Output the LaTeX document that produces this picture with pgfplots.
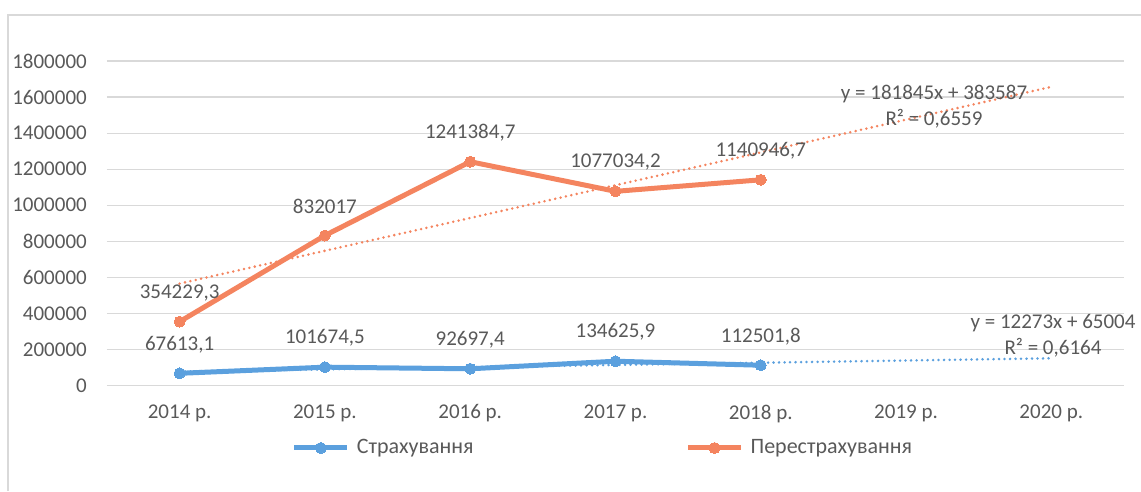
\documentclass[border=0pt]{standalone}
\usepackage{pgfplots}
\pgfplotsset{compat=1.18}
\usepackage{pgfplotstable}
\usepackage{fontspec}
\setmainfont{Carlito}
\definecolor{cblue}{RGB}{91,160,222}
\definecolor{corange}{RGB}{244,132,95}
\definecolor{ctext}{RGB}{89,89,89}
\definecolor{cgrid}{RGB}{217,217,217}

\pgfplotstableread{
x y lab
1 67613.1 {67613,1}
2 101674.5 {101674,5}
3 92697.4 {92697,4}
4 134625.9 {134625,9}
5 112501.8 {112501,8}
}\insdata
\pgfplotstableread{
x y lab
1 354229.3 {354229,3}
2 832017 {832017}
3 1241384.7 {1241384,7}
4 1077034.2 {1077034,2}
5 1140946.7 {1140946,7}
}\reinsdata
% trendlines: y = 12273x + 65004 ; y = 181845x + 383587 (forecast 2 periods)
\pgfplotstableread{
x y
1 77277
7 150915
}\instrend
\pgfplotstableread{
x y
1 565432
7 1656502
}\reinstrend

\begin{document}
\fontsize{21pt}{25pt}\selectfont
\begin{tikzpicture}
\useasboundingbox (0pt,0pt) rectangle (1141pt,491pt);
\draw[cgrid, line width=1.2pt] (8pt,0pt) -- (8pt,476pt) -- (1141pt,476pt);
\begin{axis}[
  at={(107pt,105.5pt)}, anchor=south west,
  width=1017pt, height=324.5pt, scale only axis,
  xmin=0.5, xmax=7.5, ymin=0, ymax=1800000,
  xtick={1,2,3,4,5,6,7},
  xticklabels={2014 р.,2015 р.,2016 р.,2017 р.,2018 р.,2019 р.,2020 р.},
  ytick={0,200000,...,1800000},
  ymajorgrids, grid style={cgrid, line width=1.2pt},
  axis line style={draw=none},
  tick style={draw=none},
  scaled y ticks=false,
  /pgf/number format/.cd, fixed, 1000 sep={}, assume math mode=true, /pgfplots/.cd,
  tick label style={font=\fontsize{21pt}{25pt}\selectfont, text=ctext},
  yticklabel style={xshift=-13pt},
  xticklabel style={yshift=-12pt},
  clip=false,
  legend columns=2,
  legend style={at={(0.4867,-0.1926)}, anchor=center, draw=none, fill=none,
    font=\fontsize{22pt}{26pt}\selectfont, text=ctext,
    nodes={inner sep=0pt},
    /tikz/every odd column/.append style={column sep=7pt},
    /tikz/every even column/.append style={column sep=212pt}},
  legend image code/.code={\draw[#1,mark repeat=2,mark phase=2] plot coordinates {(0pt,0pt) (26.5pt,0pt) (53pt,0pt)};},
  nodes near coords style={font=\fontsize{21pt}{25pt}\selectfont, text=ctext, anchor=center, yshift=29pt},
]
\addplot[forget plot, cblue, line width=2.8pt, line cap=round, dash pattern=on 0pt off 5.5pt] table[x=x,y=y] {\instrend};
\addplot[forget plot, corange, line width=2.8pt, line cap=round, dash pattern=on 0pt off 5.5pt] table[x=x,y=y] {\reinstrend};
\addplot[cblue, line width=5pt, line join=round, mark=*, mark size=5.5pt, mark options={solid, fill=cblue, draw=cblue, line width=0pt},
  nodes near coords, point meta=explicit symbolic] table[x=x,y=y,meta=lab] {\insdata};
\addlegendentry{Страхування}
\addplot[corange, line width=5pt, line join=round, mark=*, mark size=5.5pt, mark options={solid, fill=corange, draw=corange, line width=0pt},
  nodes near coords, point meta=explicit symbolic] table[x=x,y=y,meta=lab] {\reinsdata};
\addlegendentry{Перестрахування}
\end{axis}
\begin{scope}[every node/.style={text=ctext, font=\fontsize{21pt}{25pt}\selectfont, inner sep=0pt}]
\node at (934pt,397pt) {y = 181845x + 383587};
\node at (934pt,372pt) {R² = 0,6559};
\node at (1053pt,168pt) {y = 12273x + 65004};
\node at (1053pt,143pt) {R² = 0,6164};
\end{scope}
\end{tikzpicture}
\end{document}
